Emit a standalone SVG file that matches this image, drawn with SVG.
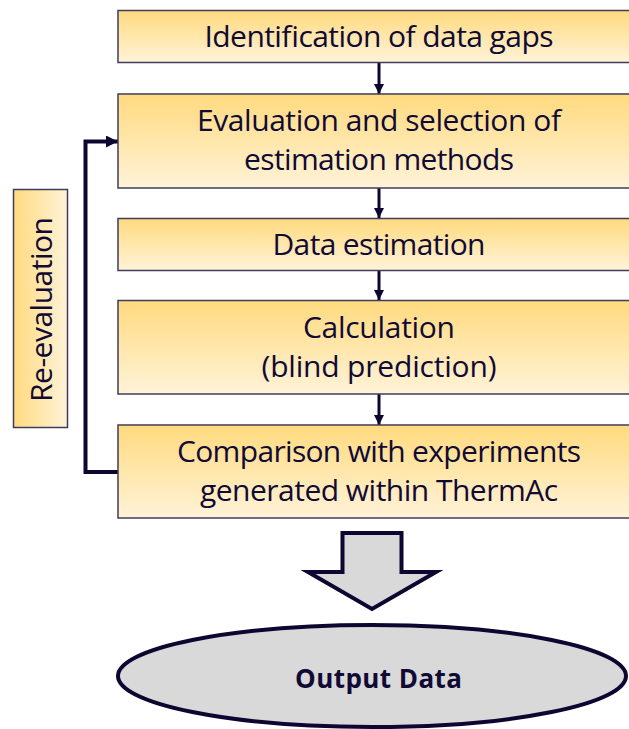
<svg xmlns="http://www.w3.org/2000/svg" width="629" height="729" viewBox="0 0 629 729">
<defs>
<linearGradient id="gv" x1="0" y1="0" x2="0" y2="1">
<stop offset="0" stop-color="#FFDA7E"/>
<stop offset="1" stop-color="#FFF3D8"/>
</linearGradient>
<linearGradient id="gh" x1="0" y1="0" x2="1" y2="0">
<stop offset="0" stop-color="#FFDA7E"/>
<stop offset="1" stop-color="#FFF3D8"/>
</linearGradient>
<marker id="ah" viewBox="0 0 10 10" refX="10" refY="5" markerWidth="10" markerHeight="10" markerUnits="userSpaceOnUse" orient="auto">
<path d="M0,0 L10,5 L0,10 Z" fill="#0d0630"/>
</marker>
<marker id="ah2" viewBox="0 0 12 12" refX="12" refY="6" markerWidth="12" markerHeight="12" markerUnits="userSpaceOnUse" orient="auto">
<path d="M0,0 L12,6 L0,12 Z" fill="#0d0630"/>
</marker>
</defs>
<style>
.box{fill:url(#gv);stroke:#3f3c5e;stroke-width:1.5}
.t{font-family:"Open Sans","Liberation Sans",sans-serif;font-size:30px;fill:#100a35;text-anchor:middle}
.b{font-family:"Open Sans","Liberation Sans",sans-serif;font-size:26px;font-weight:bold;fill:#100a35;text-anchor:middle}
.c{fill:none;stroke:#0d0630;stroke-width:3}
.fb{fill:none;stroke:#0d0630;stroke-width:4}
</style>
<rect width="629" height="729" fill="#ffffff"/>
<g id="connectors">
<line class="c" x1="379" y1="63" x2="379" y2="94" marker-end="url(#ah)"/>
<line class="c" x1="379" y1="188" x2="379" y2="218" marker-end="url(#ah)"/>
<line class="c" x1="379" y1="271" x2="379" y2="300" marker-end="url(#ah)"/>
<line class="c" x1="379" y1="394" x2="379" y2="425" marker-end="url(#ah)"/>
<polyline class="fb" points="118,472 85.5,472 85.5,141.5 118,141.5" marker-end="url(#ah2)"/>
<path d="M342.5,533 H401.5 V572 H436 L372,609 L308,572 H342.5 Z" fill="#d9d9d9" stroke="#0d0630" stroke-width="4" stroke-linejoin="miter"/>
</g>
<g id="n1">
<rect class="box" x="118" y="10.5" width="522" height="52"/>
<text class="t" x="379" y="47" textLength="349" lengthAdjust="spacing">Identification of data gaps</text>
</g>
<g id="n2">
<rect class="box" x="118" y="94" width="522" height="94"/>
<text class="t" x="379" y="131" textLength="364" lengthAdjust="spacing">Evaluation and selection of</text>
<text class="t" x="379" y="170" textLength="270" lengthAdjust="spacing">estimation methods</text>
</g>
<g id="n3">
<rect class="box" x="118" y="218.5" width="522" height="52"/>
<text class="t" x="379" y="255" textLength="213" lengthAdjust="spacing">Data estimation</text>
</g>
<g id="n4">
<rect class="box" x="118" y="300.5" width="522" height="93.5"/>
<text class="t" x="379" y="338" textLength="152" lengthAdjust="spacing">Calculation</text>
<text class="t" x="379" y="377" textLength="235" lengthAdjust="spacing">(blind prediction)</text>
</g>
<g id="n5">
<rect class="box" x="118" y="425" width="522" height="93"/>
<text class="t" x="379" y="462" textLength="404" lengthAdjust="spacing">Comparison with experiments</text>
<text class="t" x="379" y="501" textLength="358" lengthAdjust="spacing">generated within ThermAc</text>
</g>
<g id="reeval">
<rect x="13.5" y="189.5" width="54" height="238" fill="url(#gh)" stroke="#3f3c5e" stroke-width="1.5"/>
<text class="t" transform="translate(51.5,309.5) rotate(-90)" x="0" y="0" textLength="185" lengthAdjust="spacing">Re-evaluation</text>
</g>
<g id="output">
<ellipse cx="372" cy="676" rx="254" ry="51" fill="#d9d9d9" stroke="#0d0630" stroke-width="4"/>
<text class="b" x="378.5" y="688" textLength="167" lengthAdjust="spacing">Output Data</text>
</g>
</svg>
